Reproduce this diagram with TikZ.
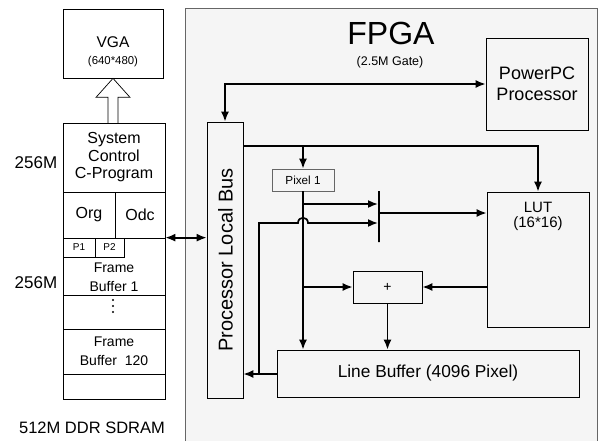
\documentclass[tikz,border=0pt]{standalone}
\usepackage{fontspec}
\setmainfont{Liberation Sans}
\usetikzlibrary{arrows.meta,calc}

\begin{document}
\begin{tikzpicture}[
  x=1pt, y=-1pt,
  box/.style={draw, line width=0.7pt, inner sep=0pt, align=center},
  txt/.style={inner sep=0pt, align=center},
  fs/.style 2 args={font=\fontsize{#1}{#2}\selectfont},
  arrow/.style={-{Latex[length=10pt,width=8pt]}, line width=1.7pt},
  dbl/.style={{Latex[length=10pt,width=8pt]}-{Latex[length=10pt,width=8pt]}, line width=1.7pt}
]
\useasboundingbox (0,0) rectangle (601,441);
\fill[black!4] (185,8) rectangle (597,441);
\draw[black!60, line width=0.7pt] (185,441) -- (185,8) -- (597,8) -- (597,441);

\node[txt, fs={32}{34}] (fpga) at (391,33) {FPGA};
\node[txt, fs={12.5}{14}] (gate) at (390,62) {(2.5M Gate)};

\node[box, minimum width=100pt, minimum height=69pt] (vga) at (113,43.5) {};
\node[txt, fs={15.5}{17}] (vgaa) at (113,42) {VGA};
\node[txt, fs={11.4}{13}] (vgab) at (113,62) {(640*480)};

\node[box, minimum width=102pt, minimum height=69pt, fs={16}{17.5}] (sys) at (114,157.5) {System\\Control\\C-Program};
\node[box, minimum width=52pt, minimum height=46pt, fs={16}{18}] (org) at (89,215) {Org};
\node[box, minimum width=50pt, minimum height=46pt, fs={16}{18}] (odc) at (140,215) {Odc};
\node[box, minimum width=102pt, minimum height=57pt] (fbone) at (114,266.5) {};
\node[box, minimum width=32pt, minimum height=19pt, fs={10}{12}] (pone) at (79,247.5) {P1};
\node[box, minimum width=29pt, minimum height=19pt, fs={10}{12}] (ptwo) at (109.5,247.5) {P2};
\node[txt, fs={14}{19}] (fbonet) at (114,277) {Frame\\Buffer 1};
\node[box, minimum width=102pt, minimum height=34pt] (gap) at (114,312) {};
\foreach \d in {0,6,12} \fill (113,300+\d) circle[radius=1.1pt];
\node[box, minimum width=102pt, minimum height=45pt, fs={14}{19}] (fbend) at (114,351.5) {Frame\\Buffer\ \ 120};
\node[box, minimum width=102pt, minimum height=25pt] (spare) at (114,386.5) {};
\node[txt, fs={17}{19}] (mema) at (36,163) {256M};
\node[txt, fs={17}{19}] (memb) at (36,283) {256M};
\node[txt, fs={16.5}{18}] (sdram) at (92,428) {512M DDR SDRAM};

\draw[line width=0.7pt] ($(vga.south)+(-5,45)$) -- ($(vga.south)+(-5,19)$) -- ($(vga.south)+(-17,19)$) -- (vga.south) -- ($(vga.south)+(17,19)$) -- ($(vga.south)+(5,19)$) -- ($(vga.south)+(5,45)$);

\node[box, minimum width=102pt, minimum height=92pt, fs={18}{21}] (ppc) at (537,84) {PowerPC\\Processor};
\node[box, minimum width=36pt, minimum height=276pt] (plb) at (225,260) {};
\node[txt, rotate=90, fs={20}{22}] (plbt) at (225.5,260) {Processor Local Bus};
\node[box, minimum width=102pt, minimum height=135pt] (lut) at (538,259.5) {};
\node[txt, fs={15}{15}] (lutt) at (538,216.5) {LUT\\(16*16)};
\node[box, draw=black!60, minimum width=62pt, minimum height=22pt, fs={11.7}{13}] (pixel) at (303,180) {Pixel 1};
\node[draw, line width=1.7pt, minimum width=0pt, minimum height=51pt, inner sep=0pt] (mux) at (379,216.5) {};
\node[box, minimum width=69pt, minimum height=32pt, fs={14}{16}] (plus) at (387.5,287) {+};
\node[box, minimum width=302pt, minimum height=47pt, fs={17.3}{19}] (lbuf) at (428,373.5) {Line Buffer (4096 Pixel)};

\coordinate (tap) at (303,146);
\coordinate (fbk) at (259,374);
\coordinate (hopa) at (298,223);
\coordinate (hopb) at (308,223);
\coordinate (ina) at (378,204);
\coordinate (inb) at (378,223);
\coordinate (outm) at (380,213);

\draw[dbl] (plb.north) |- (ppc);
\draw[arrow] (plb.east |- tap) -| (lut.north);
\draw[arrow] (tap) -- (pixel.north);
\draw[arrow] (pixel.south) -- (pixel.south |- lbuf.north);
\draw[arrow] (pixel.south |- ina) -- (ina);
\draw[arrow] (fbk) |- (hopa) .. controls ($(hopa)+(0,-7)$) and ($(hopb)+(0,-7)$) .. (hopb) -- (inb);
\draw[arrow] (outm) -- (lut.west |- outm);
\draw[arrow] (pixel.south |- plus.west) -- (plus.west);
\draw[arrow] (lut.west |- plus.east) -- (plus.east);
\draw[arrow] (plus.south) -- (plus.south |- lbuf.north);
\draw[arrow] (lbuf.west |- fbk) -- (plb.east |- fbk);
\draw[dbl] (fbone.north east) -- (plb.west |- fbone.north east);
\end{tikzpicture}
\end{document}
